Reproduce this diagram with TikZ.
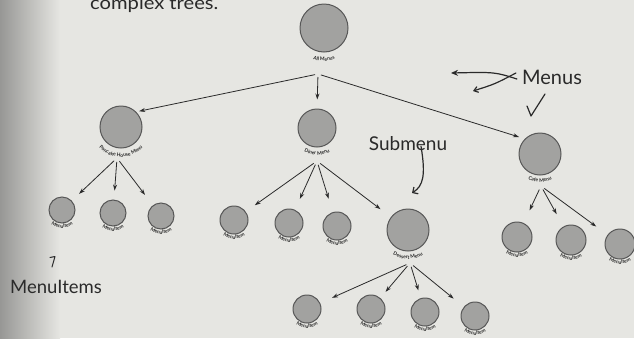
\documentclass[tikz,border=0pt]{standalone}
\usepackage{fontspec}
\setmainfont{Lato}
\usetikzlibrary{arrows.meta,decorations.text,calc}
\definecolor{paper}{HTML}{E6E6E2}
\definecolor{gutter}{HTML}{979795}
\definecolor{ink}{HTML}{2A2A2A}
\definecolor{ballfill}{HTML}{A2A2A0}
\definecolor{ballline}{HTML}{575757}
\newcommand\lblfont{\fontsize{5}{6}\selectfont\bfseries}
% name, x, y, circle radius, label radius, label
\newcommand\menunode[6]{%
  \node[ball, minimum size=#4*2pt] (#1) at (#2,#3) {};
  \path[decorate, decoration={text along path, text align=center, text color=ink,
      text={|\lblfont|#6}}]
    ($(#1)+(200:#5pt)$) arc[start angle=200, end angle=340, radius=#5pt];
}
\begin{document}
\begin{tikzpicture}[x=1pt,y=-1pt,
  ball/.style={circle, draw=ballline, line width=1pt, fill=ballfill, inner sep=0pt},
  arr/.style={draw=ink, line width=0.8pt, -{Stealth[length=6pt,width=4pt]}},
  hand/.style={text=ink, inner sep=0pt},
  note/.style={draw=ink, line width=1.2pt, line cap=round, line join=round}]
\useasboundingbox (0,0) rectangle (634,338);
\clip (0,0) rectangle (634,338);
\fill[paper] (0,0) rectangle (634,338);
\shade[left color=gutter, right color=paper] (0,0) rectangle (60,338);

% handwritten texts
\node[hand, anchor=base west, font=\fontsize{18}{18}\selectfont] (complex) at (90,9.5) {\scalebox{1.12}[1]{complex trees.}};
\node[hand, font=\fontsize{20}{20}\selectfont] (menus) at (552,77) {Menus};
\node[hand, font=\fontsize{19}{19}\selectfont] (submenu) at (408,144) {Submenu};
\node[hand, font=\fontsize{18.5}{18.5}\selectfont] (menuitems) at (56,287) {MenuItems};

% menus
\menunode{root}{324}{28}{24}{33}{All Menus}
\menunode{pancake}{121}{127}{21}{30}{Pancake House Menu}
\menunode{diner}{317}{128}{19}{27}{Diner Menu}
\menunode{cafe}{540}{154}{21}{28}{Cafe Menu}
\menunode{dessert}{408}{230}{21}{29}{Dessert Menu}

% menu items
\menunode{p1}{62}{210}{13}{18}{MenuItem}
\menunode{p2}{113}{213}{13}{18}{MenuItem}
\menunode{p3}{161}{216}{13}{18}{MenuItem}
\menunode{d1}{234}{220}{14}{19}{MenuItem}
\menunode{d2}{289}{223}{14}{19}{MenuItem}
\menunode{d3}{337}{226}{14}{19}{MenuItem}
\menunode{c1}{517}{237}{15}{20}{MenuItem}
\menunode{c2}{571}{240}{15}{20}{MenuItem}
\menunode{c3}{620}{244}{15}{20}{MenuItem}
\menunode{e1}{307}{309}{14}{19}{MenuItem}
\menunode{e2}{371}{309}{14}{19}{MenuItem}
\menunode{e3}{425}{312}{14}{19}{MenuItem}
\menunode{e4}{475}{316}{14}{19}{MenuItem}

% connector origins
\coordinate (rootout) at (318,74);
\coordinate (pancakeout) at (117,158);
\coordinate (dinerout) at (317,161);
\coordinate (cafeout) at (541,186);
\coordinate (dessertout) at (410,263);

\draw[arr, shorten <=3pt, shorten >=3pt] (rootout) -- (pancake.45);
\draw[arr, shorten <=3pt, shorten >=9pt] (rootout) -- (diner.north);
\draw[arr, shorten <=3pt, shorten >=6pt] (rootout) -- (cafe.135);

\foreach \c/\s in {p1/10, p2/9, p3/13}
  \draw[arr, shorten <=4pt, shorten >=\s pt] (pancakeout) -- (\c);
\foreach \c/\s in {d1/11, d2/12, d3/14, dessert/13}
  \draw[arr, shorten <=4pt, shorten >=\s pt] (dinerout) -- (\c);
\foreach \c/\s in {c1/14, c2/14, c3/14}
  \draw[arr, shorten <=4pt, shorten >=\s pt] (cafeout) -- (\c);
\foreach \c/\s in {e1/13, e2/8, e3/8, e4/13}
  \draw[arr, shorten <=4pt, shorten >=\s pt] (dessertout) -- (\c);

% annotation arrows
\coordinate (ma1) at (451,73);
\coordinate (ma2) at (473,91);
\draw[note, -{Stealth[length=7pt,width=6pt]}] ([xshift=-5pt,yshift=-2pt]menus.west) .. controls (495,72) .. (ma1);
\draw[note, -{Straight Barb[length=4pt,width=6pt]}] ([xshift=-6pt,yshift=4pt]menus.west) .. controls (495,84) .. (ma2);
\coordinate (tk1) at (527,106);
\coordinate (tk2) at (531,116);
\coordinate (tk3) at (545,94);
\draw[note] (tk1) -- (tk2) -- (tk3);

\coordinate (sa) at (412,193);
\draw[note, -{Straight Barb[length=4pt,width=8pt]}] ([xshift=13pt,yshift=5pt]submenu.south) .. controls (426,176) and (423,186) .. (sa);

\coordinate (mi1) at (50,257.5);
\coordinate (mi2) at (55,256.5);
\coordinate (mi3) at (52,267);
\draw[note, line width=1pt] (mi1) -- (mi2) -- (mi3);
\end{tikzpicture}
\end{document}
